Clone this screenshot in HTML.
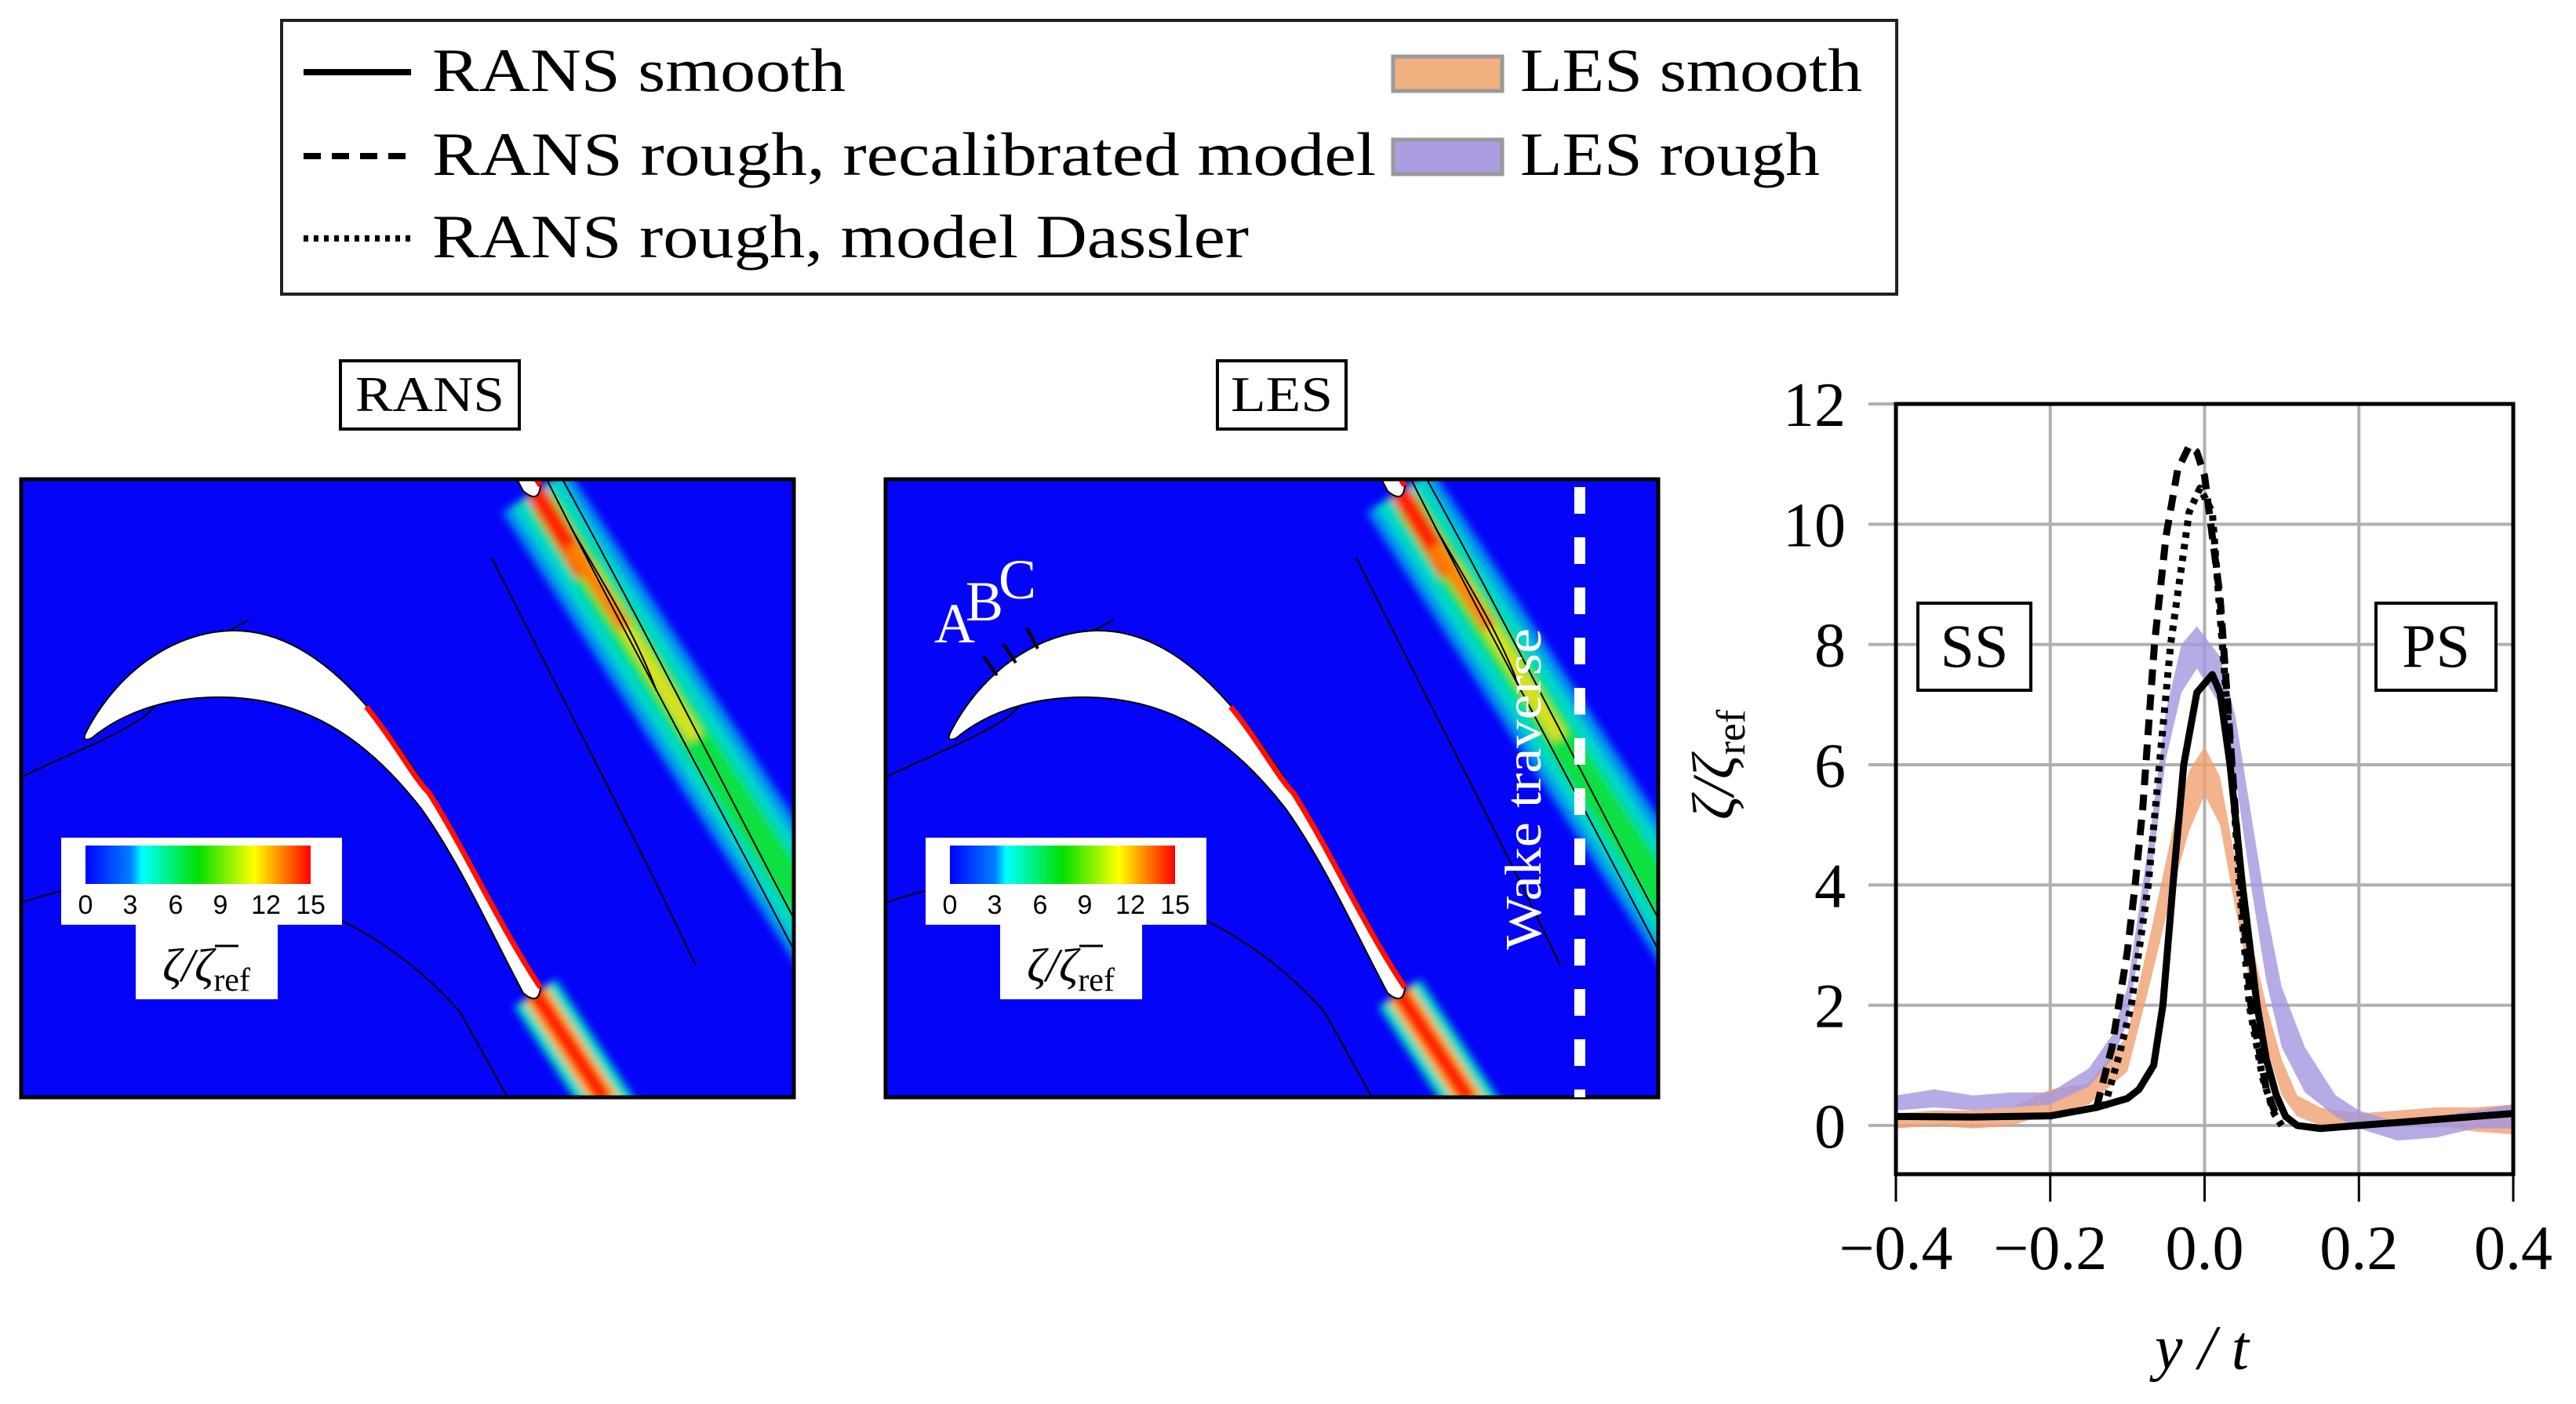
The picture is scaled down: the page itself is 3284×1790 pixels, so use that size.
<!DOCTYPE html>
<html><head><meta charset="utf-8">
<style>
html,body{margin:0;padding:0;background:#fff;}
svg{display:block;font-family:"Liberation Serif",serif;}
</style></head>
<body>
<svg id="root" width="3284" height="1790" viewBox="0 0 3284 1790" xmlns="http://www.w3.org/2000/svg">
<defs>
  <linearGradient id="cbar" x1="0" x2="1" y1="0" y2="0">
    <stop offset="0" stop-color="#0000ff"/><stop offset="0.2" stop-color="#0080ff"/>
    <stop offset="0.25" stop-color="#00ffff"/><stop offset="0.5" stop-color="#00e000"/>
    <stop offset="0.75" stop-color="#ffff00"/><stop offset="1" stop-color="#ff0000"/>
  </linearGradient>
  <filter id="blur" x="-20%" y="-20%" width="140%" height="140%"><feGaussianBlur stdDeviation="5"/></filter>
  <clipPath id="pclip"><rect x="0" y="0" width="985" height="788"/></clipPath>
  <clipPath id="chartclip"><rect x="2417" y="515" width="787" height="982"/></clipPath>
  <g id="panel">
    <rect x="0" y="0" width="985" height="788" fill="#0404f8"/>
    <g clip-path="url(#pclip)">
      <g filter="url(#blur)">
        <!-- upper wake -->
        <line x1="655" y1="15" x2="1168" y2="804" stroke="#0090f0" stroke-width="100"/>
        <line x1="655" y1="15" x2="1168" y2="804" stroke="#00d8c8" stroke-width="72"/>
        <line x1="665" y1="30" x2="1168" y2="804" stroke="#10e040" stroke-width="40"/>
        <line x1="720" y1="110" x2="860" y2="330" stroke="#d8e020" stroke-width="20"/>
        <line x1="655" y1="15" x2="720" y2="120" stroke="#ff2000" stroke-width="26"/>
        <line x1="700" y1="85" x2="770" y2="190" stroke="#ff8000" stroke-width="18"/>
        <!-- lower wake -->
        <line x1="655" y1="655" x2="760" y2="815" stroke="#00d8c8" stroke-width="64"/>
        <line x1="655" y1="655" x2="760" y2="815" stroke="#ffd000" stroke-width="34"/>
        <line x1="655" y1="655" x2="745" y2="792" stroke="#ff2000" stroke-width="24"/>
      </g>
      <g fill="none" stroke="#000" stroke-width="2">
        <path d="M0,380 C60,350 120,330 160,300 C200,260 240,200 290,180"/>
        <path d="M0,540 C200,470 420,520 560,680 L620,788"/>
        <path d="M600,100 C700,300 780,450 860,620"/>
        <path d="M690,0 C800,200 900,400 985,560"/>
        <path d="M670,0 C760,180 860,360 985,600"/>
        <path d="M700,60 C740,130 780,190 810,270"/>
      </g>
      <g id="blade">
        <path d="M83,322 C120,250 190,195 268,193 C360,191 440,270 520,400 C570,480 610,570 662,648 Q660,672 640,655 C600,580 560,490 510,420 C440,330 360,275 243,278 C170,280 120,305 90,330 Q76,336 83,322 Z" fill="#fff" stroke="#000" stroke-width="2"/>
        <path d="M440,290 C480,340 500,380 520,400 C570,480 610,570 662,648" fill="none" stroke="#ff1000" stroke-width="7"/>
      </g>
      <use href="#blade" transform="translate(0,-640)"/>
    </g>
    <rect x="0" y="0" width="985" height="788" fill="none" stroke="#000" stroke-width="5"/>
    <rect x="51" y="457" width="358" height="111" fill="#fff"/>
    <rect x="146" y="560" width="181" height="103" fill="#fff"/>
    <rect x="82" y="467" width="287" height="49" fill="url(#cbar)"/>
    <g font-family="Liberation Sans, sans-serif" font-size="34" text-anchor="middle" fill="#000">
      <text x="82" y="554">0</text><text x="139" y="554">3</text><text x="197" y="554">6</text>
      <text x="254" y="554">9</text><text x="312" y="554">12</text><text x="369" y="554">15</text>
    </g>
    <text x="236" y="640" font-size="60" font-style="italic" text-anchor="middle">ζ/ζ<tspan font-size="42" font-style="normal" dy="12">ref</tspan></text>
    <line x1="247" y1="595" x2="277" y2="595" stroke="#000" stroke-width="3"/>
  </g>
</defs>

<g>
  <rect x="359" y="26" width="2059" height="349" fill="#fff" stroke="#222" stroke-width="4"/>
  <g>
    <line x1="387" y1="92" x2="524" y2="92" stroke="#000" stroke-width="8"/>
    <text x="551" y="116" font-size="78" textLength="527" lengthAdjust="spacingAndGlyphs">RANS smooth</text>
  </g>
  <g>
    <line x1="387" y1="199" x2="524" y2="199" stroke="#000" stroke-width="8" stroke-dasharray="22,14"/>
    <text x="551" y="223" font-size="78" textLength="1203" lengthAdjust="spacingAndGlyphs">RANS rough, recalibrated model</text>
  </g>
  <g>
    <line x1="387" y1="304" x2="524" y2="304" stroke="#000" stroke-width="8" stroke-dasharray="6,7"/>
    <text x="551" y="328" font-size="78" textLength="1041" lengthAdjust="spacingAndGlyphs">RANS rough, model Dassler</text>
  </g>
  <g>
    <rect x="1776" y="72" width="139" height="44" fill="#f0b080" stroke="#999" stroke-width="5"/>
    <text x="1938" y="116" font-size="78" textLength="436" lengthAdjust="spacingAndGlyphs">LES smooth</text>
  </g>
  <g>
    <rect x="1776" y="178" width="139" height="44" fill="#ac9de0" stroke="#999" stroke-width="5"/>
    <text x="1938" y="223" font-size="78" textLength="382" lengthAdjust="spacingAndGlyphs">LES rough</text>
  </g>
</g>

<g>
  <rect x="434" y="460" width="228" height="87" fill="#fff" stroke="#000" stroke-width="4"/>
  <text x="548" y="524" font-size="64" text-anchor="middle" textLength="190" lengthAdjust="spacingAndGlyphs">RANS</text>
</g>
<g>
  <rect x="1552" y="460" width="164" height="87" fill="#fff" stroke="#000" stroke-width="4"/>
  <text x="1634" y="524" font-size="64" text-anchor="middle" textLength="130" lengthAdjust="spacingAndGlyphs">LES</text>
</g>

<g transform="translate(27,611)"><use href="#panel"/></g>
<g transform="translate(1129,611)">
  <use href="#panel"/>
  <line x1="885" y1="10" x2="885" y2="788" stroke="#fff" stroke-width="14" stroke-dasharray="34,30"/>
  <text transform="translate(835,600) rotate(-90)" font-size="66" fill="#fff" textLength="410" lengthAdjust="spacingAndGlyphs">Wake traverse</text>
  <g fill="#fff" font-size="72">
    <text x="62" y="208">A</text><text x="102" y="180">B</text><text x="144" y="152">C</text>
  </g>
  <g stroke="#000" stroke-width="4">
    <line x1="125" y1="226" x2="142" y2="250"/><line x1="150" y1="210" x2="166" y2="234"/><line x1="180" y1="190" x2="194" y2="216"/>
  </g>
</g>

<g id="chart"></g>

<script>
const xTicks = [-0.4, -0.2, 0.0, 0.2, 0.4];
const xTickLabels = ["\u22120.4", "\u22120.2", "0.0", "0.2", "0.4"];
const yTicks = [0, 2, 4, 6, 8, 10, 12];
const yTickLabels = ["0", "2", "4", "6", "8", "10", "12"];

const smoothX = [-0.4,-0.3,-0.2,-0.14,-0.1,-0.085,-0.066,-0.054,-0.041,-0.027,-0.01,0.01,0.02,0.033,0.049,0.068,0.08,0.093,0.105,0.12,0.15,0.2,0.3,0.4];
const smoothY = [0.15,0.14,0.16,0.3,0.45,0.6,1.0,2,4,6,7.2,7.5,7.2,6,4,2,1.1,0.5,0.15,0,-0.05,0.0,0.1,0.2];
const recalX = [-0.14,-0.12,-0.1,-0.09,-0.08,-0.065,-0.05,-0.035,-0.02,-0.01,0,0.02,0.04,0.06,0.08,0.095];
const recalY = [0.3,1.3,2.9,4.0,5.3,8.0,9.8,10.9,11.3,11.2,10.8,8.8,5.2,2.0,0.6,0.1];
const dassX = [-0.13,-0.11,-0.095,-0.073,-0.044,-0.02,-0.006,0.01,0.023,0.035,0.045,0.058,0.075,0.09,0.1];
const dassY = [0.3,1.2,2,4,8,10.2,10.6,10.2,8,6,4,2,0.8,0.2,0];

const lesRoughX = [-0.4,-0.35,-0.3,-0.25,-0.2,-0.15,-0.12,-0.1,-0.07,-0.05,-0.03,-0.01,0.02,0.04,0.06,0.08,0.1,0.13,0.17,0.2,0.25,0.3,0.35,0.4];
const lesRoughLow = [0.25,0.3,0.25,0.3,0.35,0.65,1.1,1.7,4.1,6.1,7.2,7.6,7.0,5.8,4.0,2.4,1.3,0.55,0.15,-0.05,-0.25,-0.2,-0.05,-0.05];
const lesRoughHigh = [0.5,0.6,0.5,0.55,0.55,0.95,1.5,2.3,4.9,6.9,8.0,8.3,7.8,6.8,5.2,3.6,2.3,1.3,0.5,0.25,0.05,0.15,0.25,0.35];
const lesSmoothX = [-0.4,-0.35,-0.3,-0.25,-0.2,-0.15,-0.1,-0.07,-0.04,-0.02,0,0.02,0.04,0.06,0.08,0.1,0.12,0.15,0.2,0.25,0.3,0.35,0.4];
const lesSmoothLow = [-0.05,0.0,-0.05,0.0,0.2,0.35,0.9,2.4,4.0,4.9,5.5,5.0,3.6,2.3,1.3,0.5,0.15,0.0,-0.05,0.0,0.0,-0.1,-0.15];
const lesSmoothHigh = [0.2,0.25,0.25,0.3,0.6,0.7,1.5,3.2,5.0,5.9,6.3,5.8,4.4,3.1,2.0,1.1,0.5,0.3,0.2,0.25,0.3,0.3,0.35];

const NS = "http://www.w3.org/2000/svg";
const L = 2417, R = 3204, T = 515, B = 1497;
const xMin = -0.4, xMax = 0.4, yMin = -0.81, yMax = 12;
function sx(v){ return L + (v - xMin) / (xMax - xMin) * (R - L); }
function sy(v){ return B - (v - yMin) / (yMax - yMin) * (B - T); }
const chart = document.getElementById('chart');
function mk(tag, attrs, parent){
  const e = document.createElementNS(NS, tag);
  for (const k in attrs) e.setAttribute(k, attrs[k]);
  (parent || chart).appendChild(e);
  return e;
}
mk('rect', {x:L, y:T, width:R-L, height:B-T, fill:'#fff'});
xTicks.forEach((v, i) => {
  const g = mk('line', {x1:sx(v), x2:sx(v), y1:T, y2:B, stroke:'#b0b0b0', 'stroke-width':4});
  
  
  const t = mk('text', {x:sx(v), y:1618, 'font-size':80, 'text-anchor':'middle'});
  t.textContent = xTickLabels[i];
  
  
  mk('line', {x1:sx(v), x2:sx(v), y1:B, y2:B+35, stroke:'#000', 'stroke-width':3});
});
yTicks.forEach((v, i) => {
  const g = mk('line', {x1:L-35, x2:R, y1:sy(v), y2:sy(v), stroke:'#b0b0b0', 'stroke-width':4});
  
  
  const t = mk('text', {x:2353, y:sy(v)+28, 'font-size':80, 'text-anchor':'end'});
  t.textContent = yTickLabels[i];
  
  
});
const plot = mk('g', {'clip-path':'url(#chartclip)'});
function band(xs, lo, hi, color, name){
  let d = 'M' + xs.map((x,i)=>sx(x)+','+sy(hi[i])).join(' L');
  d += ' L' + xs.slice().reverse().map((x,j)=>{const i=xs.length-1-j; return sx(x)+','+sy(lo[i]);}).join(' L') + ' Z';
  const p = mk('path', {d:d, fill:color, 'fill-opacity':0.8}, plot);
  
  
}
function line(xs, ys, dash, name){
  const d = 'M' + xs.map((x,i)=>sx(x)+','+sy(ys[i])).join(' L');
  const p = mk('path', {d:d, fill:'none', stroke:'#000', 'stroke-width':9, 'stroke-linejoin':'round'}, plot);
  if (dash) p.setAttribute('stroke-dasharray', dash);
  
  
}
band(lesSmoothX, lesSmoothLow, lesSmoothHigh, '#f0a070', 'les-smooth-band');
band(lesRoughX, lesRoughLow, lesRoughHigh, '#a596de', 'les-rough-band');
line(recalX, recalY, '20,12', 'rans-rough-recalibrated-line');
line(dassX, dassY, '7,8', 'rans-rough-dassler-line');
line(smoothX, smoothY, null, 'rans-smooth-line');
const frame = mk('rect', {x:L, y:T, width:R-L, height:B-T, fill:'none', stroke:'#000', 'stroke-width':5});


[['SS',2445,144],['PS',3029,153]].forEach(([s,x,w]) => {
  const g = mk('g', {});
  
  
  mk('rect', {x:x, y:769, width:w, height:111, fill:'#fff', stroke:'#000', 'stroke-width':4}, g);
  const t = mk('text', {x:x+w/2, y:850, 'font-size':78, 'text-anchor':'middle'}, g);
  t.textContent = s;
});
const xl = mk('text', {x:2807, y:1745, 'font-size':80, 'font-style':'italic', 'text-anchor':'middle'});
xl.textContent = 'y / t';


const yl = mk('text', {transform:'translate(2210,975) rotate(-90)', 'font-size':76, 'font-style':'italic', 'text-anchor':'middle'});


const ylMain = mk('tspan', {}, yl);
ylMain.textContent = 'ζ/ζ';
const ylSub = mk('tspan', {'font-size':52, 'font-style':'normal', dy:14}, yl);
ylSub.textContent = 'ref';
</script>
</svg>
</body></html>
